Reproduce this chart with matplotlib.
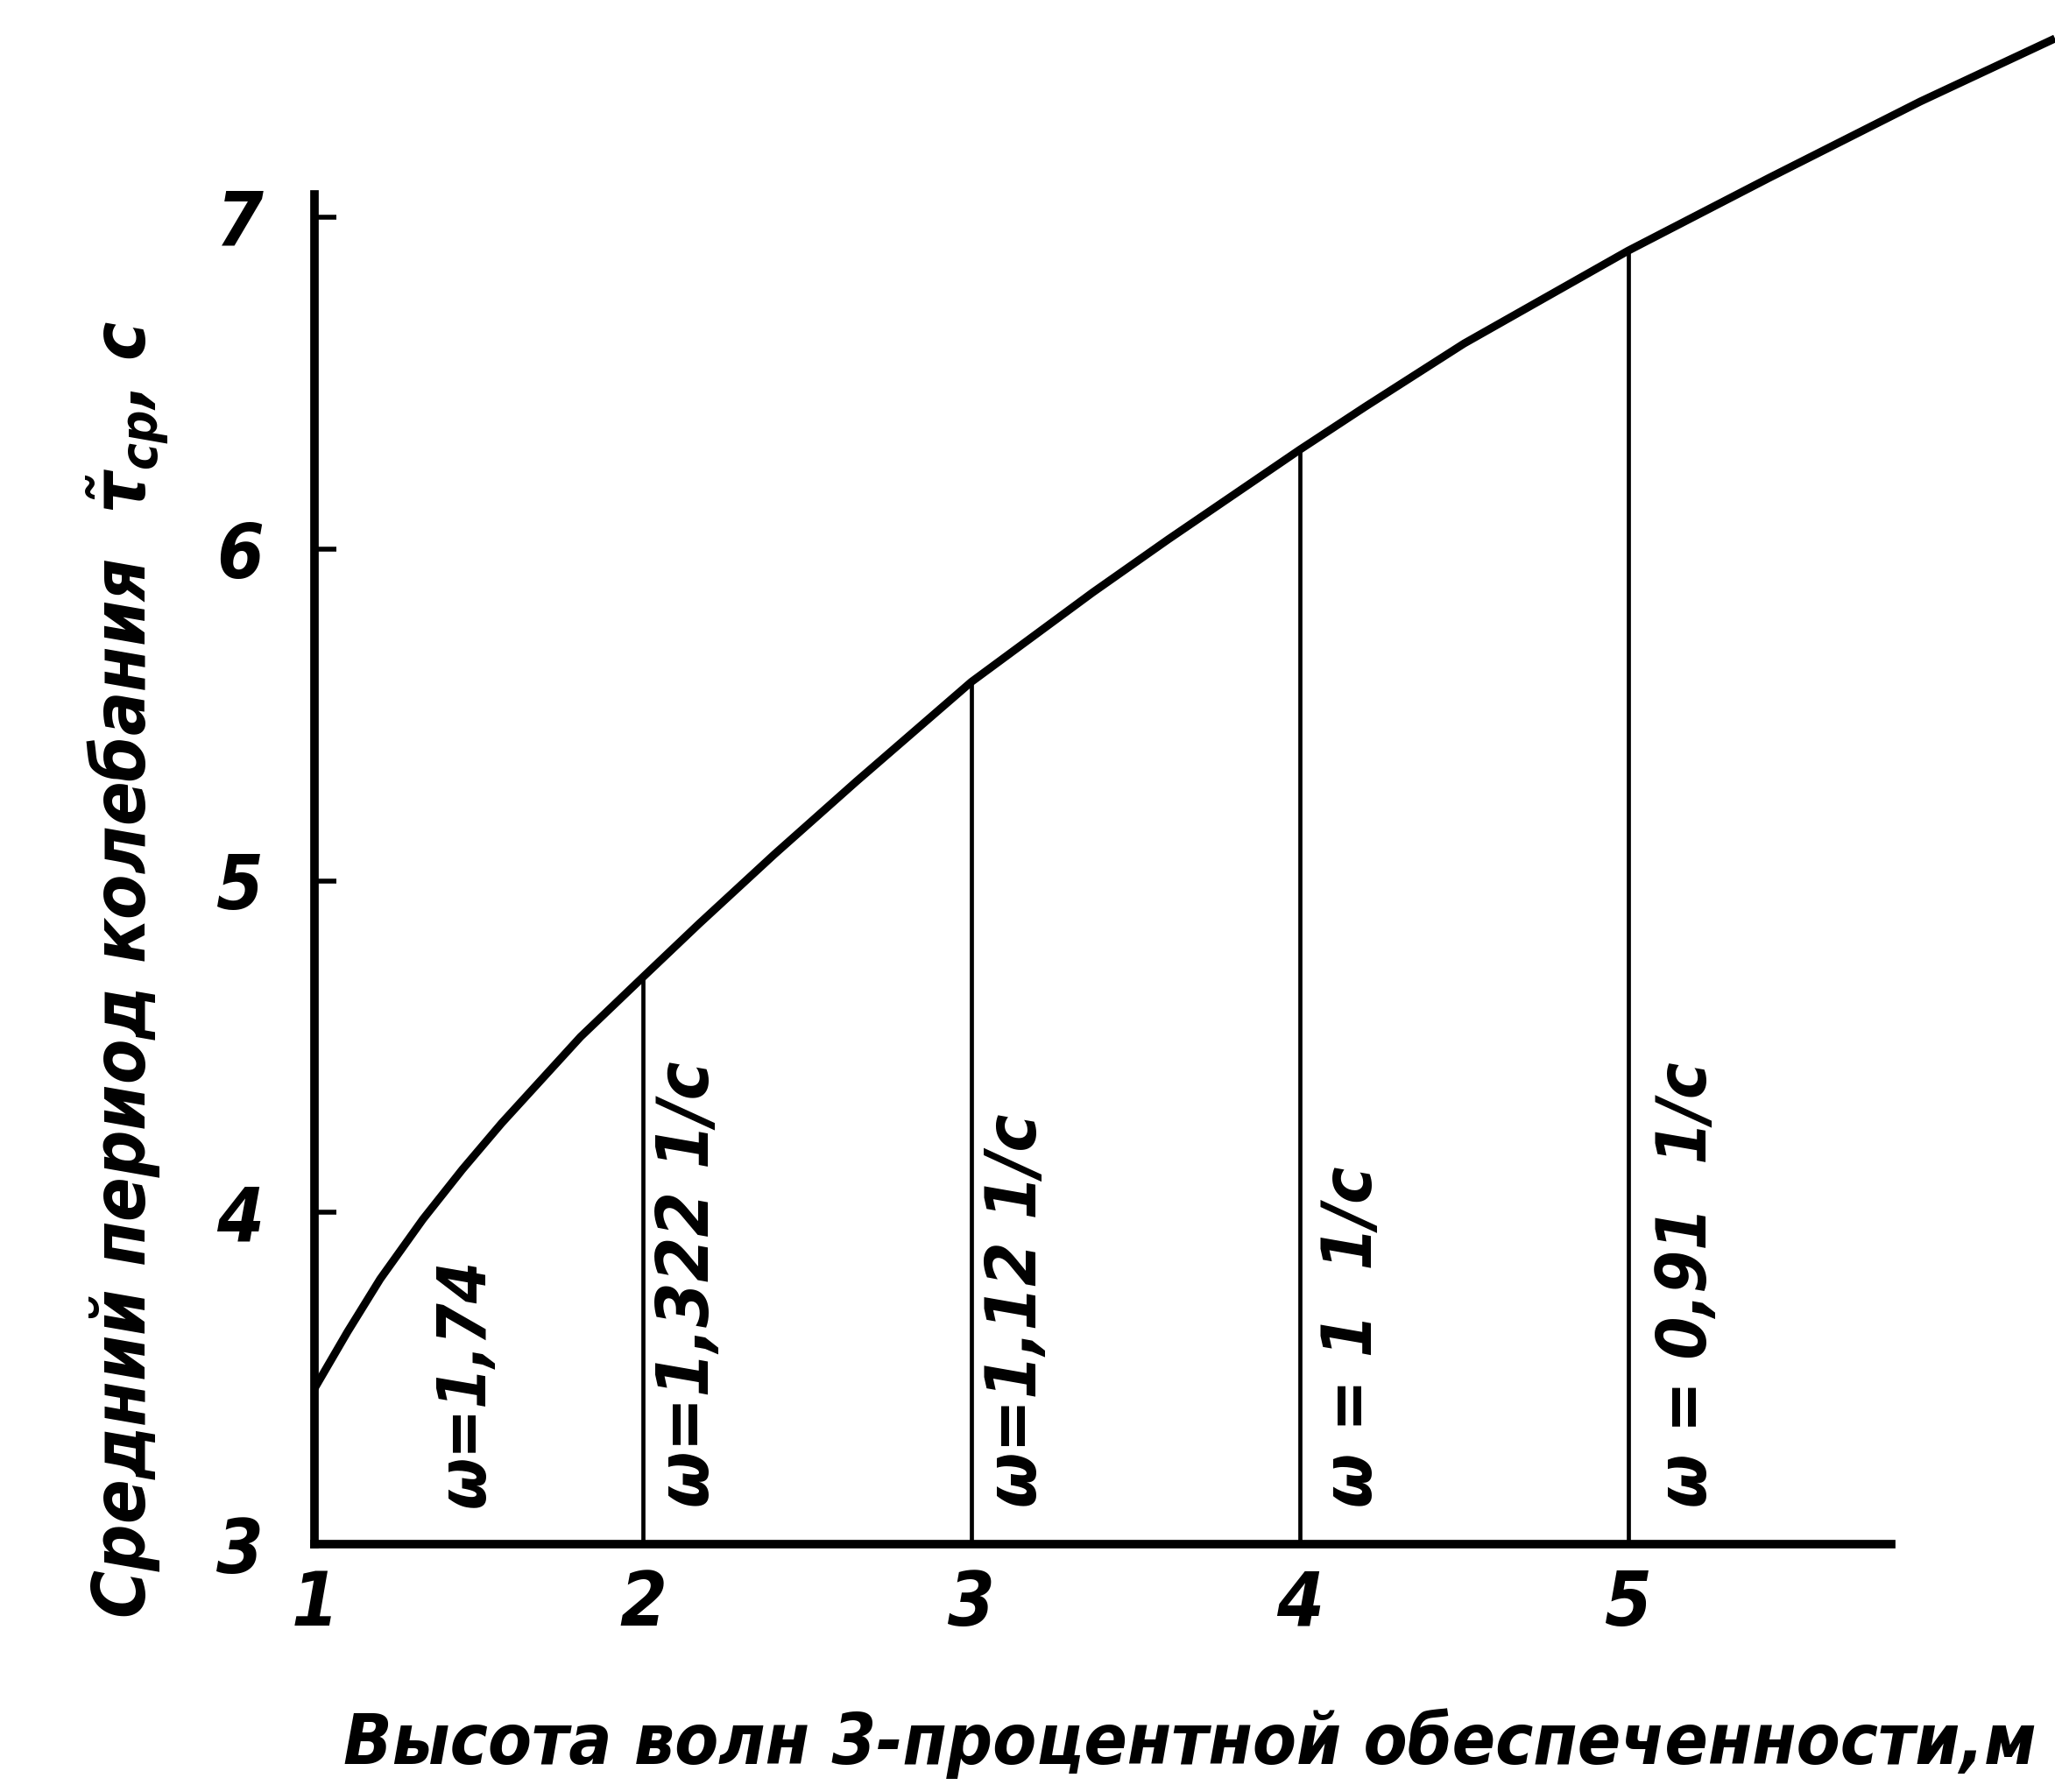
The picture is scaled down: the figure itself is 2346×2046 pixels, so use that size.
import matplotlib
matplotlib.use('Agg')
import matplotlib.pyplot as plt

plt.rcParams['font.family'] = ['Liberation Sans Narrow', 'DejaVu Sans Condensed', 'DejaVu Sans']
plt.rcParams['font.style'] = 'italic'
plt.rcParams['font.stretch'] = 'condensed'
plt.rcParams['font.weight'] = 'bold'

# curve: wave height (m) vs mean period (s)
wave_height = [1.0, 1.1, 1.2, 1.33, 1.45, 1.57, 1.69, 1.81, 2.0, 2.17, 2.4, 2.65,
               3.0, 3.37, 3.6, 4.0, 4.2, 4.5, 5.0, 5.43, 5.89, 6.3]
mean_period = [3.47, 3.64, 3.80, 3.98, 4.13, 4.27, 4.40, 4.53, 4.71, 4.87, 5.08, 5.30,
               5.60, 5.87, 6.03, 6.30, 6.43, 6.62, 6.90, 7.12, 7.35, 7.54]

# vertical lines and their labels
omega_heights = [2.0, 3.0, 4.0, 5.0]
omega_text = ['ω=1,74', 'ω=1,322 1/c', 'ω=1,12 1/c', 'ω = 1  1/c', 'ω = 0,91  1/c']
omega_text_x = [1.46, 2.14, 3.14, 4.16, 5.18]
omega_text_len = [284, 509, 449, 389, 509]  # pixel length of each label

x_ticks = [1, 2, 3, 4, 5]
y_ticks = [3, 4, 5, 6, 7]

fig = plt.figure(figsize=(23.46, 20.46), dpi=100)
ax = fig.add_axes([0, 0, 1, 1])
ax.set_xlim(0.042, 6.30)
ax.set_ylim(2.253, 7.656)

ax.plot(wave_height, mean_period, color='black', lw=6.5, solid_capstyle='butt',
        solid_joinstyle='round', clip_on=False)

for h in omega_heights:
    top = mean_period[wave_height.index(h)]
    ax.vlines(h, 3, top, color='black', lw=3.4)

labels = []
for x, s in zip(omega_text_x, omega_text):
    labels.append(ax.text(x, 3.11, s, rotation=90, ha='center', va='bottom', fontsize=62))

for side in ['top', 'right']:
    ax.spines[side].set_visible(False)
ax.spines['left'].set_position(('data', 1))
ax.spines['left'].set_bounds(3, 7.07)
ax.spines['left'].set_linewidth(7)
ax.spines['bottom'].set_position(('data', 3))
ax.spines['bottom'].set_bounds(1, 5.8)
ax.spines['bottom'].set_linewidth(7)

ax.set_xticks(x_ticks)
ax.set_yticks(y_ticks)
ax.set_xticklabels([str(t) for t in x_ticks])
ax.set_yticklabels([str(t) for t in y_ticks])
ax.tick_params(axis='y', direction='in', length=18, width=4, pad=42, labelsize=62)
ax.tick_params(axis='x', length=0, pad=20, labelsize=62)

ylab = fig.text(0.062, 0.459, 'Средний период колебания  $\\tilde{\\tau}_{ср}$, с',
                rotation=90, ha='center', va='center', fontsize=72)
xlab = fig.text(0.579, 0.027, 'Высота волн 3-процентной обеспеченности,м',
                ha='center', va='center', fontsize=80)

# scale the long texts so that their length matches the original
fig.canvas.draw()
r = fig.canvas.get_renderer()
xlab.set_fontsize(xlab.get_fontsize() * 1934 / xlab.get_window_extent(r).width)
ylab.set_fontsize(ylab.get_fontsize() * 1481 / ylab.get_window_extent(r).height)
for t, n in zip(labels, omega_text_len):
    t.set_fontsize(t.get_fontsize() * n / t.get_window_extent(r).height)

fig.savefig('out.png', dpi=100)
